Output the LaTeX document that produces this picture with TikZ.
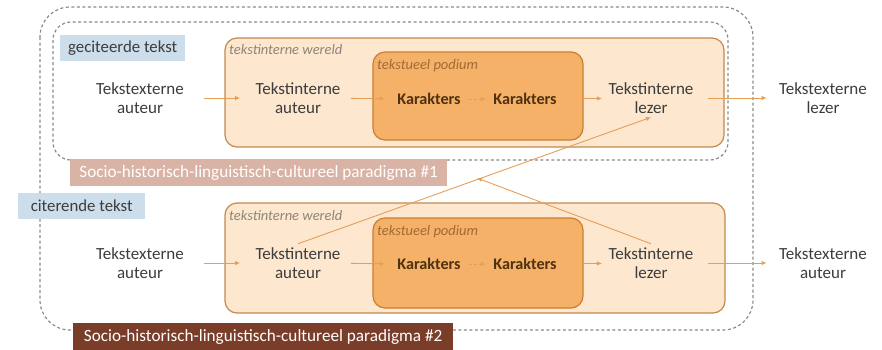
\documentclass[tikz,border=0pt]{standalone}
\usepackage{fontspec}
\setmainfont{Carlito}
\usetikzlibrary{arrows.meta}
\definecolor{txtgrey}{HTML}{3C3C3C}
\definecolor{kartxt}{HTML}{4E3112}
\definecolor{worldfill}{HTML}{FDE7CE}
\definecolor{worldedge}{HTML}{C4884E}
\definecolor{podfill}{HTML}{F5B167}
\definecolor{podedge}{HTML}{C97F33}
\definecolor{tagblue}{HTML}{CCDDEB}
\definecolor{parlight}{HTML}{D8B3A6}
\definecolor{pardark}{HTML}{7A3D2A}
\definecolor{bordergrey}{HTML}{8A8A8A}
\definecolor{arrorange}{HTML}{E59E58}
\definecolor{worldtxt}{HTML}{8F8479}
\definecolor{podtxt}{HTML}{A06B36}
\begin{document}
\begin{tikzpicture}[x=1pt,y=-1pt,
  actor/.style={align=center,text=txtgrey,font=\fontsize{17}{19.5}\selectfont},
  kar/.style={text=kartxt,font=\fontsize{16.2}{18}\selectfont\bfseries},
  flow/.style={draw=arrorange,line width=0.9pt,-{Latex[length=5pt,width=4.5pt]}},
  world/.style={draw=worldedge,fill=worldfill,line width=1.2pt,rounded corners=12pt},
  podium/.style={draw=podedge,fill=podfill,line width=1.2pt,rounded corners=12pt},
  tag/.style={fill=tagblue,text=txtgrey,font=\fontsize{16.8}{18}\selectfont,inner sep=0pt,minimum height=26pt,anchor=north west},
  paradigm/.style={text=white,font=\fontsize{17.2}{18}\selectfont,inner sep=0pt,minimum height=27pt,anchor=north west},
  border/.style={draw=bordergrey,line width=1.2pt,dash pattern=on 3pt off 2.5pt},
  wlabel/.style={anchor=west,inner sep=0pt,font=\fontsize{14.5}{16}\selectfont\itshape}]

\useasboundingbox (0,0) rectangle (882,349);

% dashed frames
\draw[border,rounded corners=30pt] (40,7) rectangle (753,330);
\draw[border,rounded corners=18pt] (53,22) rectangle (728,160);

% text worlds
\draw[world] (225,38) rectangle (724,147);
\draw[podium] (373,52) rectangle (583,140);
\draw[world] (225,203) rectangle (725,313);
\draw[podium] (373,218) rectangle (583,308);
\node[wlabel,text=worldtxt] (wereld1) at (229,50) {tekstinterne wereld};
\node[wlabel,text=podtxt] (podium1) at (377,66) {tekstueel podium};
\node[wlabel,text=worldtxt] (wereld2) at (229,216) {tekstinterne wereld};
\node[wlabel,text=podtxt] (podium2) at (377,232) {tekstueel podium};

% tags and paradigms
\node[tag,minimum width=125pt] (geciteerd) at (60,35) {geciteerde tekst};
\node[tag,minimum width=127pt] (citerend) at (18,193) {citerende tekst};
\node[paradigm,fill=parlight,minimum width=377pt] (par1) at (70,159) {Socio-historisch-linguistisch-cultureel paradigma \#1};
\node[paradigm,fill=pardark,minimum width=380pt] (par2) at (73,323) {Socio-historisch-linguistisch-cultureel paradigma \#2};

% quoted text
\node[actor] (exta1) at (140,98) {Tekstexterne\\auteur};
\node[actor] (inta1) at (298,98) {Tekstinterne\\auteur};
\node[kar] (kara1) at (429,99) {Karakters};
\node[kar] (karb1) at (525,99) {Karakters};
\node[actor] (intl1) at (651,98) {Tekstinterne\\lezer};
\node[actor] (extl1) at (823,98) {Tekstexterne\\lezer};

% quoting text
\node[actor] (exta2) at (140,263) {Tekstexterne\\auteur};
\node[actor] (inta2) at (298,263) {Tekstinterne\\auteur};
\node[kar] (kara2) at (429,264) {Karakters};
\node[kar] (karb2) at (525,264) {Karakters};
\node[actor] (intl2) at (651,263) {Tekstinterne\\lezer};
\node[actor] (extl2) at (823,263) {Tekstexterne\\auteur};

\foreach \r in {1,2} {
  \draw[flow,shorten <=17pt,shorten >=12pt] (exta\r) -- (inta\r);
  \draw[flow,shorten <=7pt,shorten >=9pt] (inta\r) -- (kara\r);
  \draw[flow,dash pattern=on 3pt off 2pt,shorten <=5pt,shorten >=4pt] (kara\r) -- (karb\r);
  \draw[flow,shorten <=23pt,shorten >=3pt] (karb\r) -- (intl\r);
  \draw[flow,shorten <=11pt,shorten >=9pt] (intl\r) -- (extl\r);
}

\coordinate (par1tip) at (477,178);
\draw[flow] (inta2.north) -- (intl1.south);
\draw[flow] (intl2.north) -- (par1tip);
\end{tikzpicture}
\end{document}
